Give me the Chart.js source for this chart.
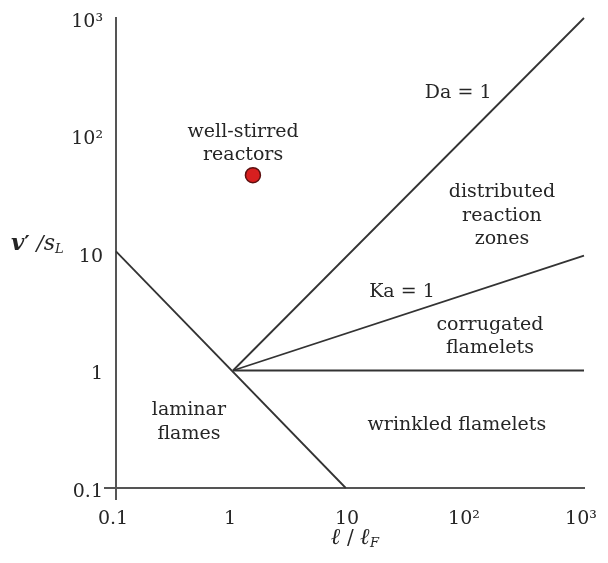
<!DOCTYPE html>
<html>
<head>
<meta charset="utf-8">
<script src="https://cdn.jsdelivr.net/npm/chart.js@4"></script>
<style>
  html, body { margin: 0; padding: 0; background: #ffffff; }
  #wrap { width: 608px; height: 563px; }
</style>
</head>
<body>
<div id="wrap"><canvas id="c" width="608" height="563"></canvas></div>
<script>
// ---- data ----
const xTickValues = [0.1, 1, 10, 100, 1000];
const xTickLabels = ['0.1', '1', '10', '10²', '10³'];
const yTickValues = [0.1, 1, 10, 100, 1000];
const yTickLabels = ['0.1', '1', '10', '10²', '10³'];

const laminarX = [0.1, 9.2];
const laminarY = [10.3, 0.1];
const daX = [1, 1000];
const daY = [1, 1000];
const kaX = [1, 1000];
const kaY = [1, 9.5];
const flameletX = [1, 1000];
const flameletY = [1, 1];
const reactorX = [1.48];
const reactorY = [46];

// region labels: anchor (data coords of first line centre) and lines
const regionLabels = [
  { x: 1.22, y: 107, lines: ['well-stirred', 'reactors'] },
  { x: 84, y: 230, lines: ['Da = 1'] },
  { x: 199, y: 33, lines: ['distributed', 'reaction', 'zones'] },
  { x: 27.8, y: 4.66, lines: ['Ka = 1'] },
  { x: 157, y: 2.44, lines: ['corrugated', 'flamelets'] },
  { x: 82, y: 0.344, lines: ['wrinkled flamelets'] },
  { x: 0.42, y: 0.46, lines: ['laminar', 'flames'] }
];

const pts = (xs, ys) => xs.map((x, i) => ({ x: x, y: ys[i] }));

const LINE = '#333333';
const AXIS = '#555555';
const TEXT = '#262626';
const SERIF = '"DejaVu Serif", "Liberation Serif", serif';

const lineDs = (label, data) => ({
  label, data, showLine: true, borderColor: LINE, borderWidth: 1.8,
  pointRadius: 0, pointHoverRadius: 0, fill: false, clip: false, tension: 0
});

const textPlugin = {
  id: 'textPlugin',
  afterDatasetsDraw(chart) {
    const ctx = chart.ctx;
    const xs = chart.scales.x, ys = chart.scales.y;
    ctx.save();
    ctx.fillStyle = TEXT;
    ctx.font = '19px ' + SERIF;
    ctx.textAlign = 'center';
    ctx.textBaseline = 'middle';
    regionLabels.forEach(l => {
      const px = xs.getPixelForValue(l.x), py = ys.getPixelForValue(l.y);
      l.lines.forEach((t, i) => ctx.fillText(t, px, py + i * 23.5));
    });

    const drawRich = (parts, x, y, align) => {
      let total = 0;
      parts.forEach(p => { ctx.font = p.font; p.w = ctx.measureText(p.t).width; total += p.w; });
      let cx = align === 'center' ? x - total / 2 : x;
      ctx.textAlign = 'left';
      ctx.textBaseline = 'alphabetic';
      parts.forEach(p => { ctx.font = p.font; ctx.fillText(p.t, cx, y + (p.dy || 0)); cx += p.w; });
    };
    // y-axis title  v'/s_L
    drawRich([
      { t: 'v', font: 'italic bold 23px ' + SERIF },
      { t: '′', font: 'bold 21px ' + SERIF },
      { t: ' /', font: 'italic 21px ' + SERIF },
      { t: 's', font: 'italic 22px ' + SERIF },
      { t: 'L', font: 'italic 13px ' + SERIF, dy: 3 }
    ], 11, ys.getPixelForValue(10) - 3, 'left');
    // x-axis title  ℓ/ℓ_F
    drawRich([
      { t: 'ℓ', font: 'italic bold 23px ' + SERIF },
      { t: ' / ', font: '20px ' + SERIF },
      { t: 'ℓ', font: 'italic bold 23px ' + SERIF },
      { t: 'F', font: 'italic 13px ' + SERIF, dy: 3 }
    ], xs.getPixelForValue(10) + 5, chart.chartArea.bottom + 56, 'center');
    ctx.restore();
  }
};

new Chart(document.getElementById('c'), {
  type: 'scatter',
  data: {
    datasets: [
      lineDs('laminar limit', pts(laminarX, laminarY)),
      lineDs('Da = 1', pts(daX, daY)),
      lineDs('Ka = 1', pts(kaX, kaY)),
      lineDs('v\'/sL = 1', pts(flameletX, flameletY)),
      {
        label: 'reactor', data: pts(reactorX, reactorY),
        pointRadius: 7.5, pointBackgroundColor: '#d81f1f',
        pointBorderColor: '#5c1010', pointBorderWidth: 1.5, showLine: false, clip: false
      }
    ]
  },
  options: {
    responsive: false,
    animation: false,
    layout: { padding: { top: 18, right: 24, left: 0, bottom: 0 } },
    plugins: { legend: { display: false }, tooltip: { enabled: false } },
    scales: {
      x: {
        type: 'logarithmic', min: 0.1, max: 1000,
        afterBuildTicks: s => { s.ticks = xTickValues.map(v => ({ value: v })); },
        afterFit: s => { s.height = 75; s.paddingLeft = 0; s.paddingRight = 0; },
        ticks: {
          autoSkip: false, maxRotation: 0, padding: 8, labelOffset: -3,
          color: TEXT, font: { family: SERIF, size: 19 },
          callback: (v, i) => xTickLabels[i]
        },
        grid: {
          drawOnChartArea: false, drawTicks: true, tickLength: 12, lineWidth: 2,
          color: c => (c.index === 0 ? AXIS : 'rgba(0,0,0,0)')
        },
        border: { display: true, color: AXIS, width: 2 }
      },
      y: {
        type: 'logarithmic', min: 0.1, max: 1000,
        afterBuildTicks: s => { s.ticks = yTickValues.map(v => ({ value: v })); },
        afterFit: s => { s.width = 116; s.paddingTop = 0; s.paddingBottom = 0; },
        ticks: {
          autoSkip: false, padding: 1, labelOffset: 4,
          color: TEXT, font: { family: SERIF, size: 19 },
          callback: (v, i) => yTickLabels[i]
        },
        grid: {
          drawOnChartArea: false, drawTicks: true, tickLength: 12, lineWidth: 2,
          color: c => (c.index === 0 ? AXIS : 'rgba(0,0,0,0)')
        },
        border: { display: true, color: AXIS, width: 2 }
      }
    }
  },
  plugins: [textPlugin]
});
</script>
</body>
</html>
